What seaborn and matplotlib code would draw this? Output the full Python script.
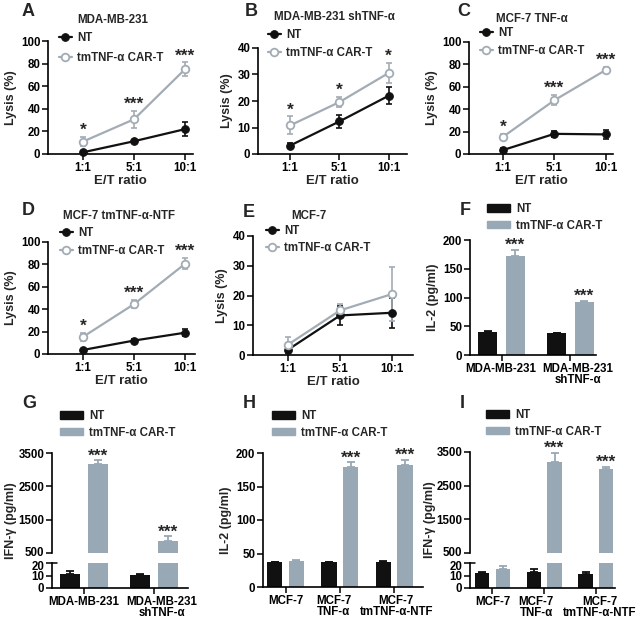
import numpy as np
import pandas as pd
import matplotlib
matplotlib.use('Agg')
import matplotlib.pyplot as plt
import seaborn as sns
from matplotlib.patches import Patch
from matplotlib.transforms import ScaledTranslation

# dados
ratios = ['1:1', '5:1', '10:1']

a_nt = [1.5, 11.3, 22.0]
a_nt_err = [0.8, 1.2, 6.0]
a_car = [11.0, 30.7, 75.0]
a_car_err = [3.8, 7.4, 6.0]
a_stars = ['*', '***', '***']

b_nt = [3.2, 12.3, 22.0]
b_nt_err = [1.0, 2.3, 3.3]
b_car = [10.8, 19.6, 30.6]
b_car_err = [3.4, 2.0, 3.9]
b_stars = ['*', '*', '*']

c_nt = [3.5, 18.0, 17.5]
c_nt_err = [1.5, 2.5, 4.0]
c_car = [15.3, 48.0, 75.0]
c_car_err = [2.3, 4.5, 3.0]
c_stars = ['*', '***', '***']

d_nt = [3.6, 12.0, 19.0]
d_nt_err = [0.8, 1.3, 3.2]
d_car = [15.3, 44.5, 80.5]
d_car_err = [3.6, 3.5, 5.0]
d_stars = ['*', '***', '***']

e_nt = [1.8, 13.3, 14.2]
e_nt_err = [1.0, 3.2, 5.0]
e_car = [3.5, 15.0, 20.5]
e_car_err = [2.5, 2.0, 9.2]

f_cells = ['MDA-MB-231', 'MDA-MB-231\nshTNF-α']
f_nt = [39.4, 37.7]
f_nt_err = [1.5, 0.6]
f_car = [173.0, 92.8]
f_car_err = [10.0, 1.5]
f_stars = ['***', '***']

g_cells = ['MDA-MB-231', 'MDA-MB-231\nshTNF-α']
g_nt = [11.5, 10.1]
g_nt_err = [1.8, 1.1]
g_car = [3160.0, 860.0]
g_car_err = [120.0, 140.0]
g_stars = ['***', '***']

h_cells = ['MCF-7', 'MCF-7\nTNF-α', 'MCF-7\ntmTNF-α-NTF']
h_nt = [37.5, 37.5, 38.0]
h_nt_err = [0.5, 0.5, 1.0]
h_car = [39.0, 179.0, 182.0]
h_car_err = [2.0, 7.0, 8.0]
h_stars = ['', '***', '***']

i_cells = ['MCF-7', 'MCF-7\nTNF-α', 'MCF-7\ntmTNF-α-NTF']
i_nt = [12.0, 12.8, 11.2]
i_nt_err = [0.5, 2.4, 1.6]
i_car = [15.0, 3200.0, 2985.0]
i_car_err = [2.5, 280.0, 70.0]
i_stars = ['', '***', '***']

grupos = ['NT', 'tmTNF-α CAR-T']
NT_COR = '#111111'
CAR_LINHA = '#a3acb5'
CAR_BARRA = '#98a8b5'

sns.set_theme(style='ticks')
plt.rcParams['font.family'] = ['Liberation Sans', 'DejaVu Sans']
plt.rcParams['font.weight'] = 'bold'
plt.rcParams['axes.labelweight'] = 'bold'
plt.rcParams['axes.labelsize'] = 9
plt.rcParams['xtick.labelsize'] = 8.3
plt.rcParams['ytick.labelsize'] = 8.3

W, H = 640, 618
fig = plt.figure(figsize=(W / 100, H / 100), dpi=100)


def rect(l, r, t, b):
    return [l / W, 1 - b / H, (r - l) / W, (b - t) / H]


def fx(x):
    return x / W


def fy(y):
    return 1 - y / H


def desloca(txt, dx, dy):
    # empurra um texto alguns pixels
    txt.set_transform(txt.get_transform() + ScaledTranslation(dx / 100, dy / 100, fig.dpi_scale_trans))


def estilo(ax):
    sns.despine(ax=ax)
    for s in ['left', 'bottom']:
        ax.spines[s].set_linewidth(1.2)
        ax.spines[s].set_color('black')
    ax.tick_params(length=4, width=1.1, pad=1.5, colors='black')


def letra(txt, x, y):
    fig.text(fx(x), fy(y), txt, fontsize=13, fontweight='bold', ha='left', va='baseline')


def painel_linha(pos, xlim, ymax, ystep, nt, nt_err, car, car_err, stars,
                 titulo, tpos, leg, espaco=0.5):
    ax = fig.add_axes(rect(*pos))
    x = np.arange(len(ratios))
    sns.lineplot(x=x, y=nt, color=NT_COR, marker='o', markersize=5.5, lw=1.6,
                 mec=NT_COR, ax=ax, label=grupos[0], clip_on=False, zorder=3)
    sns.lineplot(x=x, y=car, color=CAR_LINHA, marker='o', markersize=5.5, lw=1.6,
                 mfc='white', mec=CAR_LINHA, mew=1.3, ax=ax, label=grupos[1],
                 clip_on=False, zorder=3)
    ax.errorbar(x, nt, yerr=nt_err, fmt='none', ecolor=NT_COR, capsize=2.5,
                elinewidth=1.2, capthick=1.2, zorder=2, clip_on=False)
    ax.errorbar(x, car, yerr=car_err, fmt='none', ecolor=CAR_LINHA, capsize=2.5,
                elinewidth=1.2, capthick=1.2, zorder=2, clip_on=False)
    for xi, yi, ei, s in zip(x, car, car_err, stars):
        ax.annotate(s, (xi, yi + ei), xytext=(0, 1.5), textcoords='offset points',
                    ha='center', va='baseline', fontsize=12.5, fontweight='bold')
    ax.set_xlim(*xlim)
    ax.set_ylim(0, ymax)
    ax.set_yticks(np.arange(0, ymax + 1, ystep))
    ax.set_xticks(x, ratios)
    ax.set_xlabel('E/T ratio', fontsize=9.5, labelpad=1)
    ax.set_ylabel('Lysis (%)', labelpad=3)
    estilo(ax)
    fig.text(fx(tpos[0]), fy(tpos[1]), titulo, fontsize=8.3, fontweight='bold',
             ha='center', va='center')
    ax.legend(handles=ax.lines[:2], labels=grupos, loc='upper left',
              bbox_to_anchor=(fx(leg[0]), fy(leg[1] - 6)), bbox_transform=fig.transFigure,
              frameon=False, fontsize=8.3, borderpad=0, borderaxespad=0,
              handlelength=1.1, handletextpad=0.45, labelspacing=espaco, numpoints=1)
    return ax


def barras(ax, cells, nt, nt_err, car, car_err, xlim):
    n = len(cells)
    df = pd.DataFrame({'cell': cells * 2, 'val': nt + car,
                       'grupo': [grupos[0]] * n + [grupos[1]] * n})
    sns.barplot(data=df, x='cell', y='val', hue='grupo', palette=[NT_COR, CAR_BARRA],
                width=0.8, gap=0.3, errorbar=None, legend=False, saturation=1,
                linewidth=0, ax=ax)
    bars = ax.patches
    centros = []
    for k, (vals, errs, cor) in enumerate([(nt, nt_err, NT_COR), (car, car_err, CAR_BARRA)]):
        xs = [bars[k * n + i].get_x() + bars[k * n + i].get_width() / 2 for i in range(n)]
        centros.append(xs)
        ax.errorbar(xs, vals, yerr=[np.zeros(n), errs], fmt='none', ecolor=cor,
                    capsize=3, elinewidth=1.3, capthick=1.3)
    ax.set_xlim(*xlim)
    ax.set_xlabel('')
    ax.set_ylabel('')
    return centros


def rotulos_x(ax, desl):
    for tick, dx in zip(ax.xaxis.get_major_ticks(), desl):
        tick.label1.set_linespacing(0.95)
        desloca(tick.label1, dx, 0)


def legenda_barras(ax, leg):
    hs = [Patch(color=NT_COR), Patch(color=CAR_BARRA)]
    ax.legend(handles=hs, labels=grupos, loc='upper left',
              bbox_to_anchor=(fx(leg[0]), fy(leg[1] - 6)), bbox_transform=fig.transFigure,
              frameon=False, fontsize=8.3, borderpad=0, borderaxespad=0,
              handlelength=2.0, handleheight=0.6, handletextpad=0.5, labelspacing=0.4)


def estrelas(ax, xs, vals, errs, stars, dy=0):
    for xi, yi, ei, s in zip(xs, vals, errs, stars):
        ax.annotate(s, (xi, yi + ei), xytext=(0, dy), textcoords='offset points',
                    ha='center', va='baseline', fontsize=12.5, fontweight='bold')


def painel_barra(pos, cells, nt, nt_err, car, car_err, stars, xlim, leg, desl):
    ax = fig.add_axes(rect(*pos))
    c = barras(ax, cells, nt, nt_err, car, car_err, xlim)
    estrelas(ax, c[1], car, car_err, stars)
    ax.set_ylim(0, 200)
    ax.set_yticks([0, 50, 100, 150, 200])
    ax.set_ylabel('IL-2 (pg/ml)', labelpad=3)
    estilo(ax)
    rotulos_x(ax, desl)
    legenda_barras(ax, leg)
    return ax


def painel_quebrado(pos_top, pos_bot, cells, nt, nt_err, car, car_err, stars, xlim, leg,
                    ylab_x, desl):
    ax1 = fig.add_axes(rect(*pos_top))
    ax2 = fig.add_axes(rect(*pos_bot))
    c = barras(ax1, cells, nt, nt_err, car, car_err, xlim)
    barras(ax2, cells, nt, nt_err, car, car_err, xlim)
    hi = [s if v > 500 else '' for s, v in zip(stars, car)]
    estrelas(ax1, c[1], car, car_err, hi)
    ax1.set_ylim(500, 3500)
    ax1.set_yticks([500, 1500, 2500, 3500])
    ax2.set_ylim(0, 20)
    ax2.set_yticks([0, 10, 20])
    estilo(ax1)
    estilo(ax2)
    ax1.spines['bottom'].set_visible(False)
    ax1.tick_params(axis='x', bottom=False, labelbottom=False)
    ax2.plot([0, 0.035], [1, 1], transform=ax2.transAxes, color='black', lw=1.1,
             clip_on=False)
    desloca(ax1.yaxis.get_major_ticks()[0].label1, 0, 2)
    desloca(ax2.yaxis.get_major_ticks()[2].label1, 0, -2)
    rotulos_x(ax2, desl)
    top = pos_top[2]
    bot = pos_bot[3]
    fig.text(fx(ylab_x), fy((top + bot) / 2), 'IFN-γ (pg/ml)', rotation=90,
             fontsize=9, fontweight='bold', ha='center', va='center')
    legenda_barras(ax1, leg)


painel_linha((48, 193, 41, 154), (-0.686, 2.157), 100, 20, a_nt, a_nt_err, a_car, a_car_err,
             a_stars, 'MDA-MB-231', (113, 20), (59, 38), espaco=0.7)
painel_linha((258, 407, 48, 154), (-0.653, 2.37), 40, 10, b_nt, b_nt_err, b_car, b_car_err,
             b_stars, 'MDA-MB-231 shTNF-α', (334, 17), (268, 35))
painel_linha((469, 613, 42, 154), (-0.66, 2.14), 100, 20, c_nt, c_nt_err, c_car, c_car_err,
             c_stars, 'MCF-7 TNF-α', (532, 19.5), (480, 33), espaco=0.55)
painel_linha((48, 195, 242, 354), (-0.686, 2.196), 100, 20, d_nt, d_nt_err, d_car, d_car_err,
             d_stars, 'MCF-7 tmTNF-α-NTF', (119, 216), (60, 233))
painel_linha((253, 413, 236, 355), (-0.673, 2.40), 40, 10, e_nt, e_nt_err, e_car, e_car_err,
             ['', '', ''], 'MCF-7', (309, 216), (266, 231), espaco=0.45)

painel_barra((470, 596, 240, 355), f_cells, f_nt, f_nt_err, f_car, f_car_err, f_stars,
             (-0.457, 1.37), (487, 209), [-1, 7])
painel_quebrado((52, 188, 453, 553), (52, 188, 563, 588), g_cells, g_nt, g_nt_err,
                g_car, g_car_err, g_stars, (-0.457, 1.49), (60, 416), 11, [0, 8])
painel_barra((263, 423, 453, 587), h_cells, h_nt, h_nt_err, h_car, h_car_err, h_stars,
             (-0.415, 2.53), (272, 416), [0, -6, 2])
painel_quebrado((470, 615, 452, 553), (470, 615, 563, 588), i_cells, i_nt, i_nt_err,
                i_car, i_car_err, i_stars, (-0.435, 2.37), (486, 415), 430, [0, -8, 4])

for txt, x, y in [('A', 22, 16), ('B', 245, 16), ('C', 457, 16),
                  ('D', 22, 215), ('E', 243, 217), ('F', 460, 215),
                  ('G', 22, 408), ('H', 243, 408), ('I', 460, 408)]:
    letra(txt, x, y)

fig.savefig('out.png', dpi=100)
